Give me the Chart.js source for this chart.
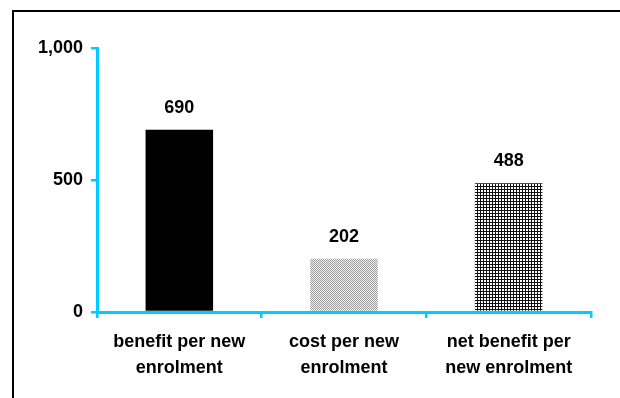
<!DOCTYPE html>
<html>
<head>
<meta charset="utf-8">
<script src="https://cdn.jsdelivr.net/npm/chart.js@4/dist/chart.umd.min.js"></script>
<style>
    html, body { margin: 0; padding: 0; background: #fff; overflow: hidden; }
    #frame {
        position: absolute; left: 12px; top: 10px;
        width: 700px; height: 500px;
        border: 2px solid #000;
    }
    #wrap { position: absolute; left: 0; top: 0; width: 620px; height: 398px; }
</style>
</head>
<body>
<div id="frame"></div>
<div id="wrap"><canvas id="chart" width="620" height="398"></canvas></div>
<script>
// Categories and values
const categories = [
    ['benefit per new', 'enrolment'],
    ['cost per new', 'enrolment'],
    ['net benefit per', 'new enrolment']
];
const values = [690, 202, 488];
const yTicks = [0, 500, 1000];

const AXIS_COLOR = '#00ccff';
const FONT = 'Arial, "Liberation Sans", sans-serif';

// Fill patterns for the bars
function makePattern(size, draw) {
    const c = document.createElement('canvas');
    c.width = size;
    c.height = size;
    const ctx = c.getContext('2d');
    draw(ctx);
    return document.getElementById('chart').getContext('2d').createPattern(c, 'repeat');
}

const dottedFill = makePattern(2, ctx => {
    ctx.fillStyle = '#eeeeee';
    ctx.fillRect(0, 0, 2, 2);
    ctx.fillStyle = '#a0a0a0';
    ctx.fillRect(0, 0, 1, 1);
    ctx.fillRect(1, 1, 1, 1);
});

const gridFill = makePattern(3, ctx => {
    ctx.fillStyle = '#fff';
    ctx.fillRect(0, 0, 3, 3);
    ctx.fillStyle = '#111';
    ctx.fillRect(0, 0, 3, 1);
    ctx.fillRect(0, 0, 1, 3);
});

// Value labels drawn above each bar
const valueLabels = {
    id: 'valueLabels',
    afterDatasetsDraw(chart) {
        const ctx = chart.ctx;
        const meta = chart.getDatasetMeta(0);
        ctx.save();
        ctx.font = 'bold 18px ' + FONT;
        ctx.fillStyle = '#000';
        ctx.textAlign = 'center';
        ctx.textBaseline = 'bottom';
        meta.data.forEach((bar, i) => {
            ctx.fillText(values[i].toLocaleString('en-US'), bar.x, bar.y - 13);
        });
        ctx.restore();
    }
};

new Chart(document.getElementById('chart'), {
    type: 'bar',
    data: {
        labels: categories,
        datasets: [{
            data: values,
            backgroundColor: ['#000', dottedFill, gridFill],
            borderWidth: 0,
            barPercentage: 0.41,
            categoryPercentage: 1
        }]
    },
    options: {
        responsive: false,
        animation: false,
        layout: { padding: { left: 0, top: 48, right: 29, bottom: 0 } },
        plugins: {
            legend: { display: false },
            tooltip: { enabled: false }
        },
        scales: {
            x: {
                grid: {
                    drawOnChartArea: false,
                    color: AXIS_COLOR,
                    lineWidth: 2.5,
                    tickLength: 6
                },
                border: { color: AXIS_COLOR, width: 3 },
                ticks: {
                    color: '#000',
                    font: { family: FONT, size: 18, weight: 'bold', lineHeight: 1.45 },
                    padding: 11,
                    maxRotation: 0
                },
                afterFit(scale) { scale.height = 86; }
            },
            y: {
                min: 0,
                max: 1000,
                afterBuildTicks(scale) {
                    scale.ticks = yTicks.map(v => ({ value: v }));
                },
                grid: {
                    drawOnChartArea: false,
                    color: AXIS_COLOR,
                    lineWidth: 2.5,
                    tickLength: 6
                },
                border: { color: AXIS_COLOR, width: 3 },
                ticks: {
                    color: '#000',
                    font: { family: FONT, size: 18, weight: 'bold' },
                    padding: 8,
                    callback: v => v.toLocaleString('en-US')
                },
                afterFit(scale) { scale.width = 97; }
            }
        }
    },
    plugins: [valueLabels]
});
</script>
</body>
</html>
